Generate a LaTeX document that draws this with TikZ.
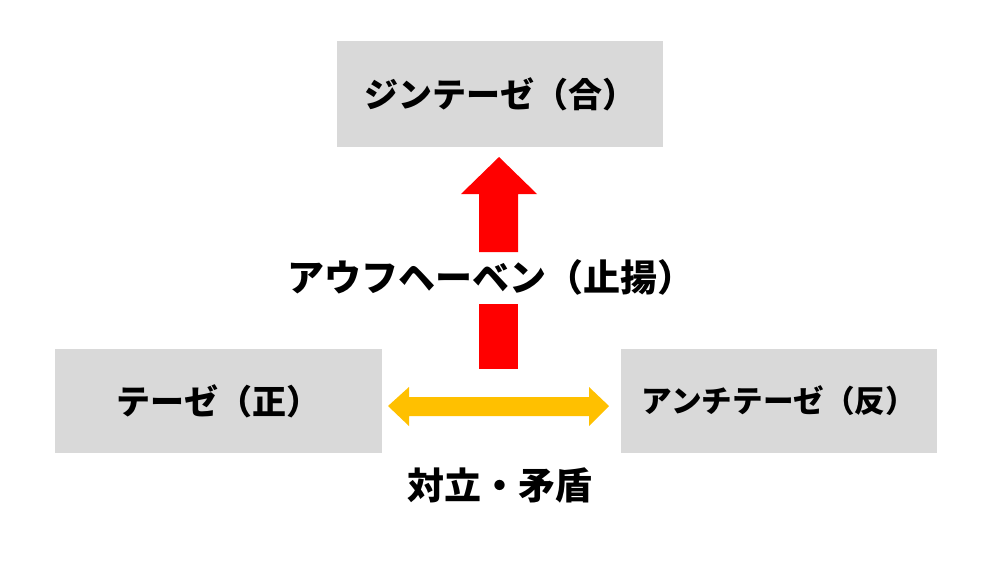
\documentclass[tikz,border=0pt]{standalone}
\usepackage{fontspec}
\setmainfont{Noto Sans CJK JP}
\definecolor{boxgray}{HTML}{D9D9D9}
\definecolor{arrred}{HTML}{FF0000}
\definecolor{arryel}{HTML}{FFC000}
\tikzset{
  gbox/.style={fill=boxgray, draw=none, inner sep=0pt, font=\bfseries},
  lbl/.style={inner sep=0pt, font=\bfseries\fontsize{37}{41}\selectfont},
}
\begin{document}
\begin{tikzpicture}[x=1pt,y=-1pt]
\useasboundingbox (0,0) rectangle (1000,563);
% boxes
\node[gbox, minimum width=326pt, minimum height=106pt, font=\bfseries\fontsize{34}{37}\selectfont] (syn) at (500,94) {ジンテーゼ（合）};
\node[gbox, minimum width=327pt, minimum height=104pt, font=\bfseries\fontsize{34}{37}\selectfont] (the) at (218.5,401) {テーゼ（正）};
\node[gbox, minimum width=316pt, minimum height=104pt, font=\bfseries\fontsize{30.6}{34}\selectfont] (ant) at (779,401) {アンチテーゼ（反）};
% labels
\node[lbl] (auf) at (491,277) {アウフヘーベン（止揚）};
\node[lbl] (tai) at (500,485) {対立・矛盾};
% red arrow
\coordinate (rtip) at (499,157);
\fill[arrred] (479,369) rectangle (518,304);
\fill[arrred] (rtip) -- (537,194) -- (518,194) -- (518,252) -- (479,252) -- (479,194) -- (461,194) -- cycle;
% yellow double arrow
\coordinate (yl) at (388,406);
\coordinate (yr) at (609,406);
\fill[arryel] (yl) -- (409,387) -- (409,397) -- (589,397) -- (589,387) -- (yr) -- (589,426) -- (589,416) -- (409,416) -- (409,426) -- cycle;
\end{tikzpicture}
\end{document}
